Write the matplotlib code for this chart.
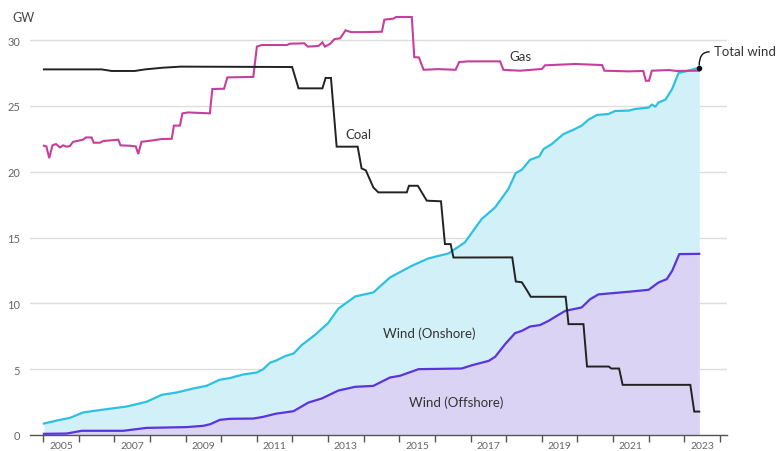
import matplotlib
matplotlib.use("Agg")
import matplotlib.pyplot as plt

plt.rcParams['font.family'] = ['Lato', 'DejaVu Sans']

# ---- data (decimal years, GW) ----
coal_x = [2005.02, 2006.64, 2006.92, 2007.57, 2007.86, 2008.37, 2008.87, 2011.99, 2012.17, 2012.84,
          2012.93, 2013.08, 2013.24, 2013.83, 2013.94, 2014.06, 2014.27, 2014.41, 2015.21, 2015.27,
          2015.52, 2015.63, 2015.77, 2016.17, 2016.28, 2016.44, 2016.52, 2018.17, 2018.27, 2018.44,
          2018.58, 2018.69, 2019.67, 2019.75, 2020.17, 2020.27, 2020.88, 2020.95, 2021.17, 2021.27,
          2023.17, 2023.28, 2023.42]
coal_y = [27.77, 27.77, 27.65, 27.65, 27.77, 27.9, 27.98, 27.95, 26.33, 26.33,
          27.12, 27.12, 21.9, 21.9, 20.25, 20.1, 18.8, 18.43, 18.43, 18.93,
          18.93, 18.43, 17.8, 17.75, 14.5, 14.5, 13.48, 13.49, 11.66, 11.6,
          11.0, 10.5, 10.5, 8.42, 8.42, 5.2, 5.2, 5.05, 5.05, 3.81,
          3.81, 1.78, 1.78]

gas_x = [2005.02, 2005.09, 2005.17, 2005.26, 2005.36, 2005.47, 2005.56, 2005.66, 2005.75, 2005.84,
         2005.98, 2006.12, 2006.2, 2006.36, 2006.42, 2006.59, 2006.69, 2007.11, 2007.17, 2007.44,
         2007.6, 2007.67, 2007.76, 2008.0, 2008.33, 2008.61, 2008.67, 2008.84, 2008.91, 2009.07,
         2009.68, 2009.75, 2010.08, 2010.17, 2010.9, 2011.0, 2011.13, 2011.84, 2011.93, 2012.33,
         2012.43, 2012.73, 2012.84, 2012.91, 2013.05, 2013.18, 2013.34, 2013.49, 2013.64, 2014.04,
         2014.51, 2014.58, 2014.83, 2014.91, 2015.35, 2015.42, 2015.55, 2015.68, 2016.09, 2016.58,
         2016.68, 2016.94, 2017.83, 2017.92, 2018.39, 2019.0, 2019.09, 2019.94, 2020.69, 2020.76,
         2021.44, 2021.85, 2021.92, 2022.01, 2022.09, 2022.56, 2022.79, 2023.42]
gas_y = [21.97, 21.92, 21.03, 22.0, 22.1, 21.85, 22.0, 21.9, 21.95, 22.27,
         22.35, 22.43, 22.6, 22.6, 22.2, 22.2, 22.33, 22.43, 22.0, 21.97,
         21.92, 21.34, 22.27, 22.35, 22.48, 22.5, 23.5, 23.5, 24.43, 24.5,
         24.43, 26.28, 26.3, 27.16, 27.2, 29.5, 29.62, 29.62, 29.72, 29.75,
         29.5, 29.55, 29.82, 29.5, 29.7, 30.07, 30.13, 30.74, 30.6, 30.6,
         30.63, 31.55, 31.62, 31.75, 31.75, 28.7, 28.68, 27.74, 27.79, 27.74,
         28.33, 28.38, 28.38, 27.74, 27.67, 27.8, 28.08, 28.18, 28.1, 27.67,
         27.62, 27.65, 26.91, 26.91, 27.67, 27.72, 27.65, 27.67]

total_x = [2005.02, 2005.47, 2005.75, 2006.12, 2006.5, 2006.97, 2007.34, 2007.9, 2008.33, 2008.75,
           2009.21, 2009.59, 2009.96, 2010.24, 2010.62, 2011.0, 2011.18, 2011.37, 2011.52, 2011.8,
           2012.03, 2012.26, 2012.63, 2013.0, 2013.29, 2013.76, 2014.27, 2014.74, 2015.35, 2015.81,
           2016.38, 2016.84, 2017.31, 2017.69, 2018.06, 2018.27, 2018.44, 2018.67, 2018.93, 2019.05,
           2019.28, 2019.61, 2019.89, 2020.12, 2020.31, 2020.55, 2020.87, 2021.06, 2021.44, 2021.62,
           2022.0, 2022.09, 2022.19, 2022.28, 2022.47, 2022.66, 2022.84, 2023.03, 2023.42]
total_y = [0.87, 1.15, 1.3, 1.71, 1.86, 2.03, 2.16, 2.52, 3.05, 3.23,
           3.53, 3.74, 4.2, 4.32, 4.6, 4.75, 5.0, 5.5, 5.63, 6.0,
           6.19, 6.83, 7.6, 8.5, 9.6, 10.52, 10.83, 11.97, 12.85, 13.41,
           13.79, 14.63, 16.4, 17.29, 18.68, 19.9, 20.15, 20.9, 21.16, 21.72,
           22.1, 22.86, 23.19, 23.5, 23.95, 24.31, 24.38, 24.61, 24.64, 24.76,
           24.87, 25.1, 24.94, 25.27, 25.47, 26.28, 27.5, 27.62, 27.9]

off_x = [2005.02, 2005.66, 2006.08, 2007.25, 2007.9, 2009.03, 2009.5, 2009.69, 2009.96, 2010.24,
         2010.9, 2011.18, 2011.52, 2012.03, 2012.45, 2012.82, 2013.29, 2013.76, 2014.27, 2014.74,
         2015.02, 2015.54, 2016.75, 2017.04, 2017.51, 2017.69, 2017.97, 2018.25, 2018.44, 2018.67,
         2018.95, 2019.19, 2019.42, 2019.66, 2020.12, 2020.36, 2020.59, 2020.97, 2021.44, 2022.0,
         2022.28, 2022.51, 2022.66, 2022.86, 2023.42]
off_y = [0.09, 0.11, 0.32, 0.32, 0.54, 0.6, 0.7, 0.82, 1.15, 1.23,
         1.25, 1.38, 1.61, 1.81, 2.47, 2.77, 3.38, 3.66, 3.73, 4.37,
         4.5, 5.0, 5.05, 5.3, 5.63, 5.94, 6.9, 7.74, 7.91, 8.24,
         8.35, 8.67, 9.05, 9.43, 9.69, 10.32, 10.68, 10.77, 10.88, 11.03,
         11.59, 11.84, 12.47, 13.74, 13.76]

year_ticks = list(range(2005, 2025))
year_labels = ['2005', '2007', '2009', '2011', '2013', '2015', '2017', '2019', '2021', '2023']
y_ticks = [0, 5, 10, 15, 20, 25, 30]

# ---- colours ----
C_TOTAL = '#2cc0e3'
C_TOTAL_FILL = '#d2f0f8'
C_OFF = '#5a34dc'
C_OFF_FILL = '#dbd3f3'
C_GAS = '#c63f9c'
C_COAL = '#222222'

fig = plt.figure(figsize=(7.76, 4.52), dpi=100)
ax = fig.add_axes([30 / 776, 1 - 436 / 452, (727 - 30) / 776, (436 - 14.7) / 452])

ax.fill_between(total_x, 0, total_y, color=C_TOTAL_FILL, lw=0, zorder=1)
ax.fill_between(off_x, 0, off_y, color=C_OFF_FILL, lw=0, zorder=2)
ax.plot(total_x, total_y, color=C_TOTAL, lw=1.6, zorder=4, solid_joinstyle='round')
ax.plot(off_x, off_y, color=C_OFF, lw=1.6, zorder=4, solid_joinstyle='round')
ax.plot(gas_x, gas_y, color=C_GAS, lw=1.5, zorder=5, solid_joinstyle='miter')
ax.plot(coal_x, coal_y, color=C_COAL, lw=1.4, zorder=6, solid_joinstyle='miter')

ax.set_xlim(2004.63, 2024.2)
ax.set_ylim(0, 32)

ax.set_yticks(y_ticks)
ax.set_yticklabels([str(v) for v in y_ticks])
ax.grid(axis='y', color='#dddddd', lw=1, zorder=0)
ax.set_axisbelow(True)
ax.tick_params(axis='y', length=0, pad=7, labelsize=8, labelcolor='#666666')

ax.set_xticks(year_ticks)
ax.set_xticklabels([])
ax.tick_params(axis='x', which='major', length=5, width=1, color='#555555', direction='out')
ax.set_xticks([int(l) + 0.5 for l in year_labels], minor=True)
ax.set_xticklabels(year_labels, minor=True)
ax.tick_params(axis='x', which='minor', length=0, labelsize=7.5, labelcolor='#666666', pad=4)

for s in ['top', 'right', 'left']:
    ax.spines[s].set_visible(False)
ax.spines['bottom'].set_color('#555555')
ax.spines['bottom'].set_linewidth(1)

fig.text(12 / 776, 1 - 18 / 452, 'GW', fontsize=9, color='#444444', va='center', ha='left')

lab = dict(fontsize=9.5, color='#333333', ha='center', va='center', zorder=10)
ax.text(2018.4, 28.75, 'Gas', **lab)
ax.text(2013.85, 22.85, 'Coal', **lab)
ax.text(2015.85, 7.8, 'Wind (Onshore)', **lab)
ax.text(2016.6, 2.5, 'Wind (Offshore)', **lab)

# end dot + hooked connector to the "Total wind" label
ax.plot([total_x[-1]], [total_y[-1]], 'o', color='#111111', ms=3, zorder=11, clip_on=False)
ax.annotate('', xy=(total_x[-1], total_y[-1] + 0.2), xytext=(2023.70, 29.1),
            annotation_clip=False,
            arrowprops=dict(arrowstyle='-', color='#111111', lw=1,
                            connectionstyle='angle3,angleA=0,angleB=90',
                            shrinkA=0, shrinkB=0))
ax.text(2023.84, 29.15, 'Total wind', fontsize=9.5, color='#333333', ha='left', va='center',
        clip_on=False, zorder=10)

fig.savefig('out.png', dpi=100)
